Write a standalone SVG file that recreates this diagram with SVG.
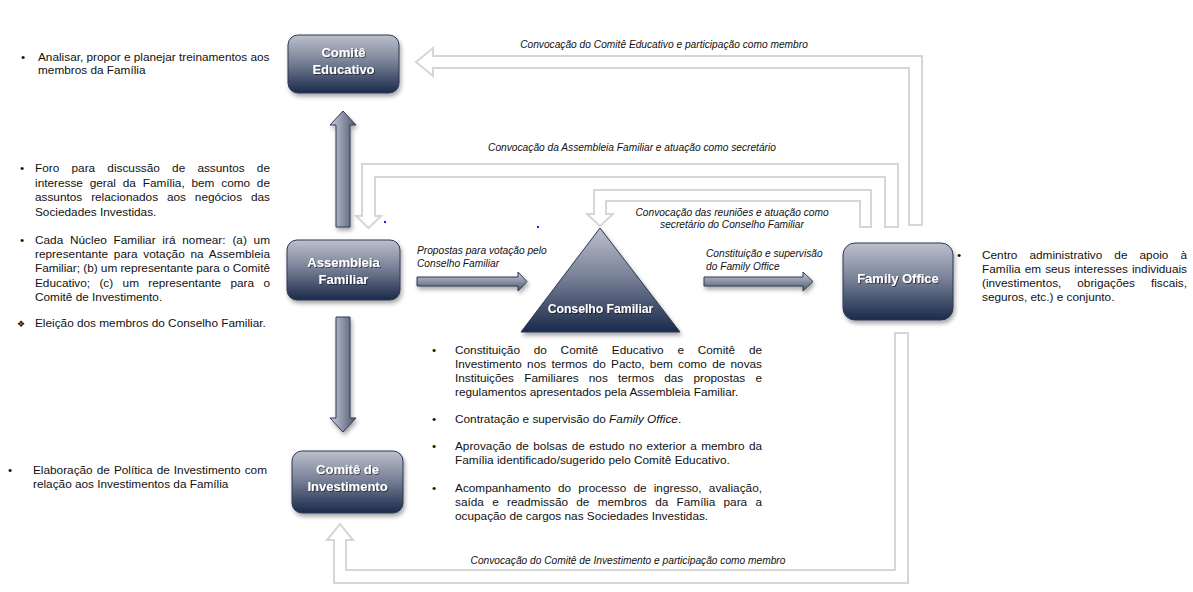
<svg xmlns="http://www.w3.org/2000/svg" width="1193" height="592" viewBox="0 0 1193 592">
<defs>
<linearGradient id="gBox" x1="0" y1="0" x2="0" y2="1">
<stop offset="0" stop-color="#bcc0cb"/>
<stop offset="0.45" stop-color="#7a8398"/>
<stop offset="1" stop-color="#1b2a4b"/>
</linearGradient>
<linearGradient id="gV" x1="0" y1="0" x2="1" y2="0">
<stop offset="0" stop-color="#c9cdd7"/>
<stop offset="1" stop-color="#4c5671"/>
</linearGradient>
<linearGradient id="gH" x1="0" y1="0" x2="0" y2="1">
<stop offset="0" stop-color="#c9cdd7"/>
<stop offset="1" stop-color="#4c5671"/>
</linearGradient>
<filter id="sh" x="-20%" y="-20%" width="140%" height="150%">
<feDropShadow dx="1.5" dy="3" stdDeviation="2" flood-color="#000" flood-opacity="0.35"/>
</filter>
<filter id="tsh" x="-10%" y="-30%" width="120%" height="160%">
<feDropShadow dx="1" dy="1" stdDeviation="0.6" flood-color="#000" flood-opacity="0.5"/>
</filter>
</defs>
<style>
.box{fill:url(#gBox);stroke:#2a3857;stroke-width:1;filter:url(#sh)}
.lbl{font-family:"Liberation Sans",Arial,sans-serif;font-weight:bold;font-size:13px;fill:#fff;text-anchor:middle;filter:url(#tsh)}
.conn{fill:#fff;stroke:#d6d6d6;stroke-width:2;stroke-linejoin:miter}
.av{fill:url(#gV);stroke:#2f3b57;stroke-width:1;filter:url(#sh)}
.ah{fill:url(#gH);stroke:#2f3b57;stroke-width:1;filter:url(#sh)}
.cap{font-family:"Liberation Sans",Arial,sans-serif;font-style:italic;font-size:10.2px;fill:#111}
.t{font-family:"Liberation Sans",Arial,sans-serif;font-size:11.8px;fill:#111}
.m{text-anchor:middle}
</style>
<rect width="1193" height="592" fill="#fff"/>

<g id="connectors">
<polygon class="conn" points="416,62 433,48 433,56 922,56 922,225 909,225 909,68 433,68 433,76"/>
<polygon class="conn" points="368.5,228 356,216 362,216 362,164 898,164 898,227 885,227 885,177 375,177 375,216 381,216"/>
<polygon class="conn" points="600,226 587,214 594,214 594,190 871,190 871,227 860,227 860,201 606,201 606,214 613,214"/>
<polygon class="conn" points="340,524 353,540 346,540 346,570 895,570 895,333 908,333 908,583 334,583 334,540 327,540"/>
<polygon class="av" points="343,111 356,125 350,125 350,227 336,227 336,125 330,125"/>
<polygon class="av" points="343,432 356,418 350,418 350,317 336,317 336,418 330,418"/>
<polygon class="ah" points="527,281.5 518,272 518,277 417,277 417,286 518,286 518,291"/>
<polygon class="ah" points="813,281.5 803,272 803,277 704,277 704,286 803,286 803,291"/>
<text class="cap m" x="664" y="48">Convocação do Comitê Educativo e participação como membro</text>
<text class="cap m" x="632" y="151">Convocação da Assembleia Familiar e atuação como secretário</text>
<text class="cap m" x="732" y="216">Convocação das reuniões e atuação como</text>
<text class="cap m" x="732" y="228">secretário do Conselho Familiar</text>
<text class="cap" x="417" y="254">Propostas para votação pelo</text>
<text class="cap" x="417" y="267">Conselho Familiar</text>
<text class="cap" x="706" y="257">Constituição e supervisão</text>
<text class="cap" x="706" y="270">do Family Office</text>
<text class="cap m" x="628" y="564">Convocação do Comitê de Investimento e participação como membro</text>
<rect x="384" y="221" width="2" height="2" fill="#1a1aff"/>
<rect x="537" y="226" width="2" height="2" fill="#1a1aff"/>
</g>

<g id="comite-educativo">
<rect class="box" x="288" y="35" width="111" height="58" rx="10"/>
<text class="lbl" x="343.5" y="57">Comitê</text>
<text class="lbl" x="343.5" y="74">Educativo</text>
</g>

<g id="assembleia-familiar">
<rect class="box" x="287" y="240" width="113" height="60" rx="10"/>
<text class="lbl" x="343.5" y="267">Assembleia</text>
<text class="lbl" x="343.5" y="284">Familiar</text>
</g>

<g id="comite-investimento">
<rect class="box" x="292" y="451" width="111" height="62" rx="10"/>
<text class="lbl" x="347.5" y="474">Comitê de</text>
<text class="lbl" x="347.5" y="491">Investimento</text>
</g>

<g id="family-office">
<rect class="box" x="843" y="243" width="110" height="77" rx="12"/>
<text class="lbl" x="898" y="283">Family Office</text>
</g>

<g id="conselho-familiar">
<polygon class="box" points="600,228 680,332 521,332"/>
<text class="lbl" x="600.5" y="313" style="font-size:12.2px">Conselho Familiar</text>
</g>

<g id="texto-comite-educativo">
<text class="t" x="21" y="61">•</text>
<text class="t" x="38" y="61">Analisar, propor e planejar treinamentos aos</text>
<text class="t" x="38" y="74">membros da Família</text>
</g>

<g id="texto-assembleia">
<text class="t" x="20" y="172">•</text>
<text class="t" x="35" y="172" word-spacing="8.9" textLength="235" lengthAdjust="spacing">Foro para discussão de assuntos de</text>
<text class="t" x="35" y="186.5" word-spacing="3.5" textLength="235" lengthAdjust="spacing">interesse geral da Família, bem como de</text>
<text class="t" x="35" y="201" word-spacing="5.6" textLength="235" lengthAdjust="spacing">assuntos relacionados aos negócios das</text>
<text class="t" x="35" y="215.5">Sociedades Investidas.</text>
<text class="t" x="20" y="244">•</text>
<text class="t" x="35" y="244" word-spacing="3.5" textLength="235" lengthAdjust="spacing">Cada Núcleo Familiar irá nomear: (a) um</text>
<text class="t" x="35" y="258" word-spacing="2.5" textLength="235" lengthAdjust="spacing">representante para votação na Assembleia</text>
<text class="t" x="35" y="272" textLength="235" lengthAdjust="spacing">Familiar; (b) um representante para o Comitê</text>
<text class="t" x="35" y="286.5" word-spacing="6.1" textLength="235" lengthAdjust="spacing">Educativo; (c) um representante para o</text>
<text class="t" x="35" y="300.5">Comitê de Investimento.</text>
<text class="t" x="17" y="327" style="font-family:'DejaVu Sans',sans-serif;font-size:9px">❖</text>
<text class="t" x="35" y="327">Eleição dos membros do Conselho Familiar.</text>
</g>

<g id="texto-comite-investimento">
<text class="t" x="8" y="474">•</text>
<text class="t" x="33" y="474" word-spacing="0.8" textLength="234" lengthAdjust="spacing">Elaboração de Política de Investimento com</text>
<text class="t" x="33" y="488">relação aos Investimentos da Família</text>
</g>

<g id="texto-family-office">
<text class="t" x="957" y="259">•</text>
<text class="t" x="982" y="259" word-spacing="8.8" textLength="205" lengthAdjust="spacing">Centro administrativo de apoio à</text>
<text class="t" x="982" y="273" word-spacing="0.8" textLength="205" lengthAdjust="spacing">Família em seus interesses individuais</text>
<text class="t" x="982" y="287" word-spacing="12.6" textLength="205" lengthAdjust="spacing">(investimentos, obrigações fiscais,</text>
<text class="t" x="982" y="301">seguros, etc.) e conjunto.</text>
</g>

<g id="texto-conselho">
<text class="t" x="432" y="354">•</text>
<text class="t" x="455" y="354" word-spacing="10.5" textLength="307" lengthAdjust="spacing">Constituição do Comitê Educativo e Comitê de</text>
<text class="t" x="455" y="368" word-spacing="2" textLength="307" lengthAdjust="spacing">Investimento nos termos do Pacto, bem como de novas</text>
<text class="t" x="455" y="382" word-spacing="6.9" textLength="307" lengthAdjust="spacing">Instituições Familiares nos termos das propostas e</text>
<text class="t" x="455" y="396">regulamentos apresentados pela Assembleia Familiar.</text>
<text class="t" x="432" y="423">•</text>
<text class="t" x="455" y="423">Contratação e supervisão do <tspan font-style="italic">Family Office</tspan>.</text>
<text class="t" x="432" y="450">•</text>
<text class="t" x="455" y="450" word-spacing="1.1" textLength="307" lengthAdjust="spacing">Aprovação de bolsas de estudo no exterior a membro da</text>
<text class="t" x="455" y="464">Família identificado/sugerido pelo Comitê Educativo.</text>
<text class="t" x="432" y="492">•</text>
<text class="t" x="455" y="492" word-spacing="3.9" textLength="307" lengthAdjust="spacing">Acompanhamento do processo de ingresso, avaliação,</text>
<text class="t" x="455" y="506" word-spacing="5" textLength="307" lengthAdjust="spacing">saída e readmissão de membros da Família para a</text>
<text class="t" x="455" y="520">ocupação de cargos nas Sociedades Investidas.</text>
</g>
</svg>
